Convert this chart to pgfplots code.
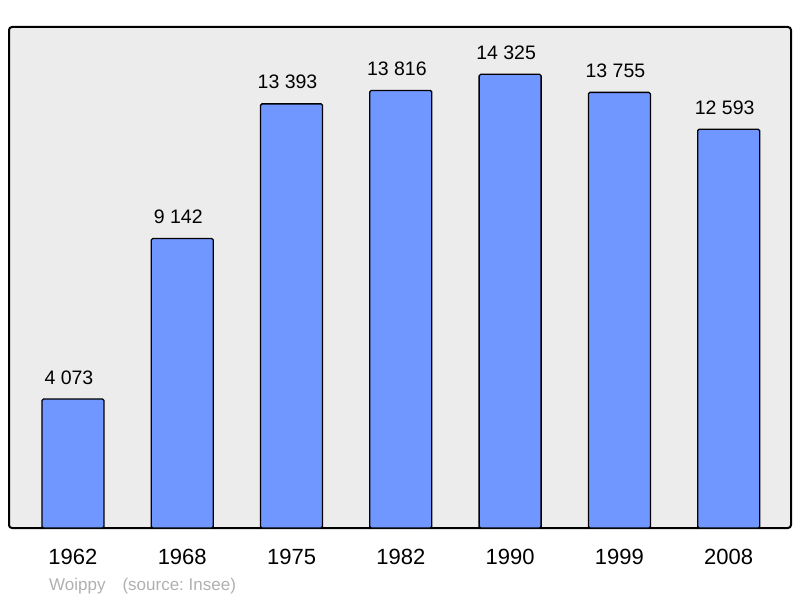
\documentclass[border=0pt]{standalone}
\usepackage{pgfplots}
\pgfplotsset{compat=1.18}
\usepackage{fontspec}
\setmainfont{Liberation Sans}
\frenchspacing
\definecolor{bgc}{RGB}{236,236,236}
\definecolor{barc}{RGB}{112,150,255}
\definecolor{srcc}{RGB}{176,176,176}
\begin{document}
\begin{tikzpicture}
\useasboundingbox (-9pt,-70pt) rectangle (791pt,528pt);
\begin{axis}[
  at={(0,0)}, anchor=south west,
  scale only axis, width=782pt, height=501pt,
  xmin=-0.585, xmax=6.57, ymin=0, ymax=15820,
  axis background/.style={fill=bgc},
  axis line style={line width=2pt, rounded corners=3pt},
  ytick=\empty, xtick={0,...,6},
  xticklabels={1962,1968,1975,1982,1990,1999,2008},
  major tick length=0pt,
  xticklabel style={anchor=base, yshift=-36pt, font=\fontsize{22}{22}\selectfont},
  ybar, bar width=62pt,
  nodes near coords={\pgfmathprintnumber[1000 sep={\ },assume math mode=true]{\pgfplotspointmeta}},
  every node near coord/.append style={anchor=base, xshift=-4pt, yshift=15pt, font=\fontsize{19.5}{19.5}\selectfont, black},
]
\addplot[fill=barc, draw=black, line width=1.3pt, rounded corners=1.5pt] coordinates {
(0,4073) (1,9142) (2,13393) (3,13816) (4,14325) (5,13755) (6,12593)};
\end{axis}
\node[anchor=base west, text=srcc, font=\fontsize{17}{17}\selectfont, inner sep=0pt] at (40pt,-62pt) {Woippy\hspace{17pt}(source: Insee)};
\end{tikzpicture}
\end{document}
